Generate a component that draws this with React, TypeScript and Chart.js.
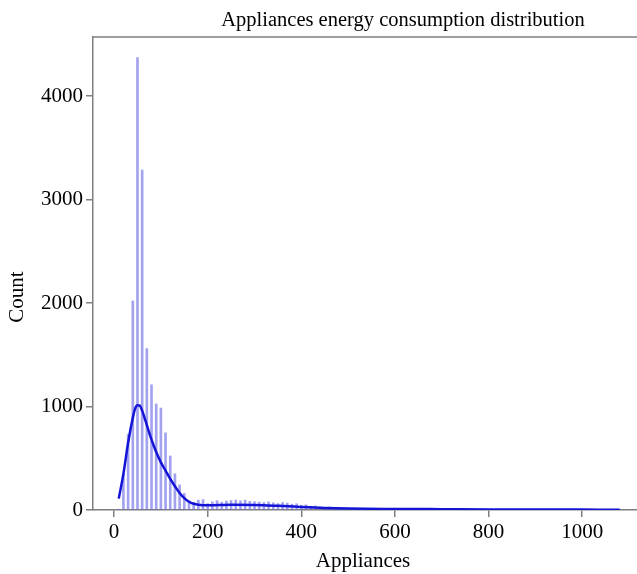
import { useEffect, useRef } from "react";
import { Chart, registerables } from "chart.js";

Chart.register(...registerables);

const TITLE = "Appliances energy consumption distribution";
const X_LABEL = "Appliances";
const Y_LABEL = "Count";

const X_TICKS = [0, 200, 400, 600, 800, 1000];
const Y_TICKS = [0, 1000, 2000, 3000, 4000];

const BIN_VALUES = [
  10, 20, 30, 40, 50, 60, 70, 80, 90, 100,
  110, 120, 130, 140, 150, 160, 170, 180, 190, 200,
  210, 220, 230, 240, 250, 260, 270, 280, 290, 300,
  310, 320, 330, 340, 350, 360, 370, 380, 390, 400,
  410, 420, 430, 440, 450, 460, 470, 480, 490, 500,
  510, 520, 530, 540, 550, 560, 570, 580, 590, 600,
  610, 620, 630, 640, 650, 660, 670, 680, 690, 700,
  710, 720, 730, 740, 750, 760, 770, 780, 790, 800,
  810, 820, 830, 840, 850, 860, 870, 880, 890, 900,
  910, 920, 930, 940, 950, 960, 970, 980, 990, 1000,
  1010, 1020, 1030, 1040, 1050, 1060, 1070, 1080,
];

const BIN_COUNTS = [
  2, 350, 730, 2020, 4370, 3285, 1560, 1210, 1025, 985,
  745, 522, 350, 242, 160, 88, 72, 95, 100, 62,
  78, 90, 76, 86, 92, 96, 88, 95, 84, 80,
  76, 72, 78, 70, 62, 72, 66, 56, 60, 46,
  50, 36, 40, 30, 26, 30, 20, 22, 16, 15,
  12, 14, 11, 12, 10, 11, 9, 10, 8, 9,
  7, 8, 6, 7, 6, 7, 5, 6, 5, 6,
  4, 5, 4, 5, 4, 4, 3, 4, 3, 4,
  3, 3, 2, 3, 2, 3, 2, 2, 3, 2,
  2, 2, 1, 2, 1, 2, 1, 1, 2, 1,
  1, 1, 1, 1, 1, 1, 1, 1,
];

const KDE_X = [10, 20, 30, 40, 45, 50, 55, 60, 70, 80, 90, 100, 110, 120, 130, 140, 150, 160, 170, 180, 200, 250, 300, 350, 400, 450, 500, 600, 700, 800, 900, 1000, 1080];
const KDE_Y = [110, 350, 650, 890, 980, 1012, 1008, 960, 820, 680, 560, 460, 380, 300, 230, 165, 115, 80, 60, 50, 45, 50, 48, 40, 30, 20, 14, 10, 8, 6, 5, 4, 3];

const FONT = "'Liberation Serif', 'Times New Roman', serif";
const AXIS_GRAY = "#7f7f7f";

export default function App() {
  const ref = useRef<HTMLCanvasElement>(null);

  useEffect(() => {
    if (!ref.current) return;
    const textPlugin = {
      id: "texts",
      afterDraw(chart: any) {
        const { ctx, chartArea } = chart;
        ctx.save();
        ctx.strokeStyle = AXIS_GRAY;
        ctx.lineWidth = 1.5;
        ctx.beginPath();
        ctx.moveTo(chartArea.left, chartArea.top);
        ctx.lineTo(chartArea.right, chartArea.top);
        ctx.stroke();
        ctx.fillStyle = "#000";
        ctx.textAlign = "center";
        ctx.textBaseline = "middle";
        ctx.font = `20.5px ${FONT}`;
        ctx.fillText(TITLE, 403, 21);
        ctx.font = `21px ${FONT}`;
        ctx.fillText(X_LABEL, 363, 561);
        ctx.translate(17, 297);
        ctx.rotate(-Math.PI / 2);
        ctx.fillText(Y_LABEL, 0, 0);
        ctx.restore();
      },
    };

    const chart = new Chart(ref.current, {
      type: "bar",
      data: {
        datasets: [
          {
            type: "line",
            data: KDE_X.map((x, i) => ({ x, y: KDE_Y[i] })),
            borderColor: "#1414d6",
            borderWidth: 2.5,
            pointRadius: 0,
            tension: 0.4,
            cubicInterpolationMode: "monotone",
            fill: false,
            order: 0,
          } as any,
          {
            type: "bar",
            data: BIN_VALUES.map((x, i) => ({ x, y: BIN_COUNTS[i] })),
            backgroundColor: "rgba(100, 100, 228, 0.6)",
            borderWidth: 0,
            barThickness: 2,
            order: 1,
          } as any,
        ],
      },
      options: {
        animation: false,
        responsive: false,
        devicePixelRatio: 1,
        layout: { padding: { top: 37, left: 0, right: 0, bottom: 0 } },
        plugins: {
          legend: { display: false },
          tooltip: { enabled: false },
          title: { display: false },
        },
        scales: {
          x: {
            type: "linear",
            min: -45,
            max: 1117,
            offset: false,
            afterBuildTicks: (s: any) => {
              s.ticks = X_TICKS.map((v) => ({ value: v }));
            },
            afterFit: (s: any) => {
              s.height = 64;
            },
            grid: {
              offset: false,
              drawOnChartArea: false,
              drawTicks: true,
              tickLength: 7,
              color: AXIS_GRAY,
              lineWidth: 1.5,
            },
            border: { display: true, color: AXIS_GRAY, width: 1.5 },
            ticks: {
              font: { family: FONT, size: 21 },
              color: "#000",
              padding: 3,
              maxRotation: 0,
              autoSkip: false,
              callback: (v: any) => String(v),
            },
          },
          y: {
            type: "linear",
            min: 0,
            max: 4570,
            afterBuildTicks: (s: any) => {
              s.ticks = Y_TICKS.map((v) => ({ value: v }));
            },
            afterFit: (s: any) => {
              s.width = 93;
            },
            grid: {
              drawOnChartArea: false,
              drawTicks: true,
              tickLength: 7,
              color: AXIS_GRAY,
              lineWidth: 1.5,
            },
            border: { display: true, color: AXIS_GRAY, width: 1.5 },
            ticks: {
              font: { family: FONT, size: 21 },
              color: "#000",
              padding: 3,
              autoSkip: false,
              callback: (v: any) => String(v),
            },
          },
        },
      } as any,
      plugins: [textPlugin],
    });
    return () => chart.destroy();
  }, []);

  return (
    <canvas
      ref={ref}
      width={637}
      height={574}
      style={{ position: "absolute", left: 0, top: 0, display: "block" }}
    />
  );
}
